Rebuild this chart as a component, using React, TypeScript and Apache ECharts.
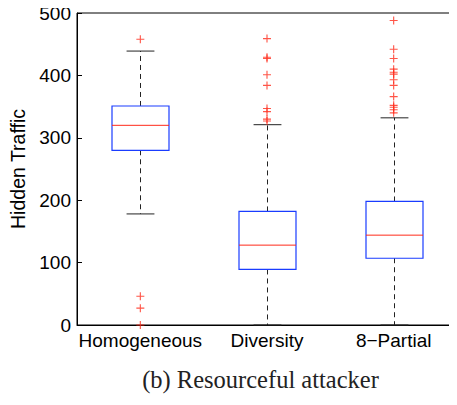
import React, { useEffect, useRef } from "react";
import * as echarts from "echarts";

const categories = ["Homogeneous", "Diversity", "8\u2212Partial"];
// [low whisker, q1, median, q3, high whisker]
const boxStats = [
  [178, 280, 320, 351, 439],
  [0, 89, 128, 182, 321],
  [0, 107, 144, 198, 332],
];
const outliersHomogeneous = [458, 46, 27, 0];
const outliersDiversity = [459, 429, 427, 401, 384, 347, 342, 330, 327];
const outliersPartial = [488, 442, 427, 410, 405, 402, 393, 384, 366, 352, 349, 345, 340];
const yTicks = [0, 100, 200, 300, 400, 500];

export default function App() {
  const ref = useRef<HTMLDivElement>(null);
  useEffect(() => {
    if (!ref.current) return;
    const chart = echarts.init(ref.current, undefined, { renderer: "svg" });
    const outlierData: number[][] = [];
    [outliersHomogeneous, outliersDiversity, outliersPartial].forEach((arr, i) =>
      arr.forEach((v) => outlierData.push([i, v]))
    );
    const font = "'Liberation Sans', Arial, Helvetica, sans-serif";
    chart.setOption({
      animation: false,
      grid: {
        left: 69,
        top: 13,
        right: -9.5,
        bottom: 80,
        show: true,
        borderColor: "#000",
        borderWidth: 1,
        backgroundColor: "transparent",
      },
      xAxis: {
        type: "category",
        data: categories,
        boundaryGap: true,
        axisLine: { lineStyle: { color: "#000", width: 1 } },
        axisTick: { show: false },
        axisLabel: { color: "#000", fontSize: 19, fontFamily: font, margin: 6, interval: 0 },
        splitLine: { show: false },
      },
      yAxis: {
        type: "value",
        min: 0,
        max: 500,
        interval: 100,
        name: "Hidden Traffic",
        nameLocation: "middle",
        nameGap: 49,
        nameTextStyle: { color: "#000", fontSize: 19.5, fontFamily: font },
        axisLine: { show: true, lineStyle: { color: "#000", width: 1 } },
        axisTick: { show: true, inside: true, length: 5, lineStyle: { color: "#000" } },
        axisLabel: {
          color: "#000",
          fontSize: 19,
          fontFamily: font,
          margin: 6,
          formatter: (v: number) => (yTicks.includes(v) ? String(v) : ""),
        },
        splitLine: { show: false },
      },
      series: [
        {
          type: "custom",
          data: boxStats.map((s, i) => [i, ...s]),
          encode: { x: 0, y: [1, 2, 3, 4, 5] },
          renderItem: (params: any, api: any) => {
            const idx = api.value(0);
            const low = api.coord([idx, api.value(1)]);
            const q1 = api.coord([idx, api.value(2)]);
            const med = api.coord([idx, api.value(3)]);
            const q3 = api.coord([idx, api.value(4)]);
            const high = api.coord([idx, api.value(5)]);
            const band = api.size([1, 0])[0];
            const bw = band * 0.45;
            const cw = band * 0.22;
            const x = Math.round(low[0]) + 0.5;
            const dash = { stroke: "#222", lineWidth: 1, lineDash: [5, 4] };
            return {
              type: "group",
              children: [
                { type: "line", shape: { x1: x, y1: q3[1], x2: x, y2: high[1] }, style: dash },
                { type: "line", shape: { x1: x, y1: q1[1], x2: x, y2: low[1] }, style: dash },
                { type: "line", shape: { x1: x - cw / 2, y1: high[1], x2: x + cw / 2, y2: high[1] }, style: { stroke: "#222", lineWidth: 1 } },
                { type: "line", shape: { x1: x - cw / 2, y1: low[1], x2: x + cw / 2, y2: low[1] }, style: { stroke: "#222", lineWidth: 1 } },
                {
                  type: "rect",
                  shape: { x: x - bw / 2, y: q3[1], width: bw, height: q1[1] - q3[1] },
                  style: { fill: "none", stroke: "#1a3cff", lineWidth: 1.2 },
                },
                { type: "line", shape: { x1: x - bw / 2, y1: med[1], x2: x + bw / 2, y2: med[1] }, style: { stroke: "#ff2a1a", lineWidth: 1 } },
              ],
            };
          },
          z: 2,
        },
        {
          type: "scatter",
          data: outlierData,
          symbol: "path://M0,4.3H10V5.7H0Z M4.3,0H5.7V10H4.3Z",
          symbolSize: 8,
          itemStyle: { color: "#ff2a1a" },
          z: 3,
        },
      ],
      graphic: [
        {
          type: "text",
          x: 260.5,
          y: 392,
          style: {
            text: "(b) Resourceful attacker",
            x: 0,
            y: 0,
            textAlign: "center",
            textVerticalAlign: "bottom",
            fill: "#222",
            font: "24.5px 'Liberation Serif', 'Times New Roman', serif",
          },
        },
      ],
    });
    return () => chart.dispose();
  }, []);
  return <div ref={ref} style={{ width: 457, height: 405, margin: -8 }} />;
}
